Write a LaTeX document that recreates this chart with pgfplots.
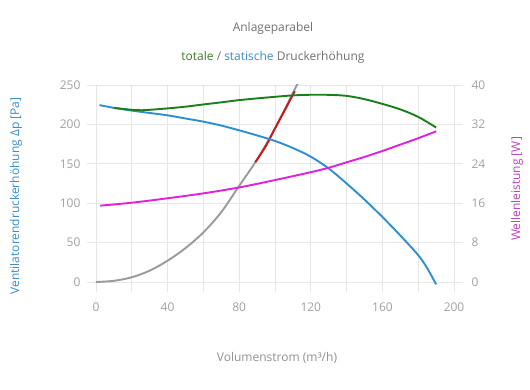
\documentclass[border=0pt]{standalone}
\usepackage{fontspec}
\setmainfont{Open Sans}
\usepackage{pgfplots}
\pgfplotsset{compat=1.18}
\definecolor{lblue}{HTML}{2E8FD0}
\definecolor{lgreen}{HTML}{1A7F1A}
\definecolor{lmag}{HTML}{E020E0}
\definecolor{lgray}{HTML}{9A9A9A}
\definecolor{lred}{HTML}{CC1616}
\definecolor{gridc}{HTML}{E6E6E6}
\definecolor{tickc}{HTML}{A0A0A0}
\definecolor{titlec}{HTML}{707070}
\definecolor{tgreen}{HTML}{3A7D2A}
\definecolor{tblue}{HTML}{3A8CC4}
\definecolor{tmag}{HTML}{C040C0}
\begin{document}
\begin{tikzpicture}
\useasboundingbox (0pt,0pt) rectangle (530pt,-390pt);
\pgfplotsset{
  base/.style={
    at={(87pt,-292pt)}, anchor=south west, scale only axis,
    width=376pt, height=207pt, xmin=-5, xmax=205,
    axis line style={draw=none}, tick style={draw=none},
    /pgf/number format/assume math mode=true,
    tick label style={font=\fontsize{12}{14}\selectfont, text=tickc},
  },
  curve/.style={line width=1.9pt, smooth, tension=0.55, line join=round},
}
\begin{axis}[base,
  ymin=-12.7, ymax=250,
  xtick={0,40,...,200}, minor xtick={20,60,...,180},
  ytick={0,50,...,250},
  grid=both, major grid style={gridc, line width=0.8pt}, minor grid style={gridc, line width=0.8pt},
  xticklabel style={yshift=-7pt},
  yticklabel style={xshift=-3pt},
]
% system parabola (gray)
\addplot[lgray, curve] coordinates {
(0,0) (10,1.5) (20,6) (30,14.4) (40,27) (50,43) (60,63) (70,88.7) (80,122) (90,155.5) (100,195) (110,240) (115,262)};
% operating part (red)
\addplot[lred, curve] coordinates {
(89,152) (95,173) (100,195) (105,216) (111,242)};
% static pressure (blue)
\addplot[lblue, curve] coordinates {
(2,224.5) (10,221) (20,217.5) (30,214.5) (40,211.5) (50,207.5) (60,203.5) (70,198.5) (80,192.5) (90,186) (100,179) (110,170) (120,159) (130,144) (140,125) (150,104.5) (160,82.5) (170,59) (180,34) (185,17.5) (190,-3)};
% total pressure (green)
\addplot[lgreen, curve] coordinates {
(10,221) (20,218.5) (26,218) (30,218.5) (40,220.3) (50,222.5) (60,225.3) (70,228) (80,230.8) (90,233) (100,235) (110,236.8) (120,237.6) (130,237.5) (140,236.2) (150,232) (160,226) (170,219) (180,209.5) (190,196)};
\end{axis}
\begin{axis}[base,
  ymin=-2.032, ymax=40,
  axis y line*=right, hide x axis,
  ytick={0,8,...,40},
  yticklabel style={xshift=5pt},
]
% shaft power (magenta)
\addplot[lmag, curve] coordinates {
(2.4,15.5) (20,16.1) (40,17.0) (60,18.0) (80,19.2) (100,20.7) (120,22.3) (130,23.2) (140,24.3) (150,25.4) (160,26.6) (170,27.9) (180,29.2) (190,30.6)};
\end{axis}
\begin{scope}[every node/.style={font=\fontsize{12}{14}\selectfont}]
\node[text=titlec] at (273pt,-28pt) {Anlageparabel};
\node[text=titlec] at (273pt,-57pt) {\textcolor{tgreen}{totale} / \textcolor{tblue}{statische} Druckerhöhung};
\node[text=tickc!90!black] at (277pt,-358pt) {Volumenstrom (m³/h)};
\node[text=tblue, rotate=90] at (16pt,-196pt) {Ventilatorendruckerhöhung Δp [Pa]};
\node[text=tmag, rotate=90] at (517pt,-189pt) {Wellenleistung [W]};
\end{scope}
\end{tikzpicture}
\end{document}
